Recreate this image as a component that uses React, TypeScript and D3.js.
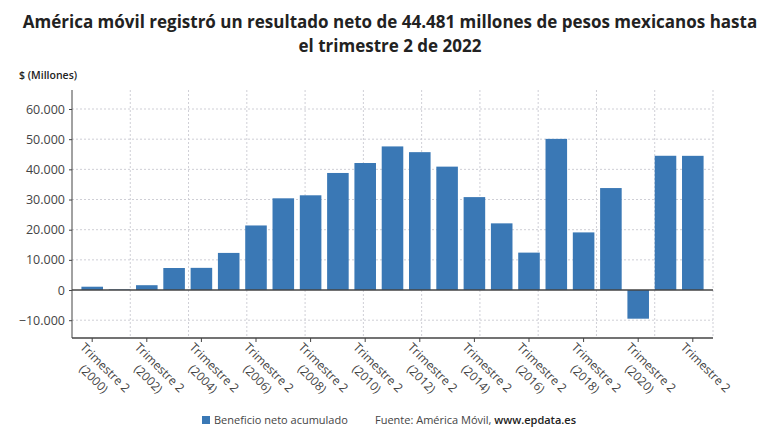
import React, { useRef, useEffect } from 'react';
import * as d3 from 'd3';

// Beneficio neto acumulado, trimestre 2 de cada año (millones de pesos)
const years = ['2000', '2001', '2002', '2003', '2004', '2005', '2006', '2007', '2008', '2009', '2010', '2011',
  '2012', '2013', '2014', '2015', '2016', '2017', '2018', '2019', '2020', '2021', '2022'];
const values = [1100, 200, 1600, 7300, 7350, 12300, 21400, 30400, 31400, 38800, 42100, 47600,
  45700, 40900, 30800, 22100, 12400, 50100, 19100, 33800, -9500, 44500, 44481];
const yTicks = [-10000, 0, 10000, 20000, 30000, 40000, 50000, 60000];
const labeledYears = ['2000', '2002', '2004', '2006', '2008', '2010', '2012', '2014', '2016', '2018', '2020', '2022'];

const titleLines = [
  'América móvil registró un resultado neto de 44.481 millones de pesos mexicanos hasta',
  'el trimestre 2 de 2022',
];

const FONT = '"Open Sans", "Noto Sans", sans-serif';
const BAR = '#3a78b5';

const App: React.FC = () => {
  const ref = useRef<HTMLDivElement>(null);

  useEffect(() => {
    d3.select(ref.current).select('svg').remove();

    const width = 780;
    const height = 440;
    const left = 72, right = 713, top = 90, bottom = 338;

    const svg = d3.select(ref.current)
      .append('svg')
      .attr('width', width)
      .attr('height', height)
      .style('position', 'absolute')
      .style('left', 0)
      .style('top', 0)
      .style('font-family', FONT);

    svg.append('rect').attr('width', width).attr('height', height).attr('fill', '#fff');

    // title
    svg.append('text')
      .attr('text-anchor', 'middle')
      .attr('font-size', 17)
      .attr('font-weight', 700)
      .attr('fill', '#222')
      .selectAll('tspan')
      .data(titleLines)
      .enter().append('tspan')
      .attr('x', 390)
      .attr('y', (d, i) => 28 + i * 24)
      .text(d => d);

    svg.append('text')
      .attr('x', 19).attr('y', 79)
      .attr('font-size', 10.5)
      .attr('font-weight', 600)
      .attr('fill', '#222')
      .text('$ (Millones)');

    const x = d3.scaleBand<string>()
      .domain(years)
      .range([left, right])
      .paddingInner(0.21)
      .paddingOuter(0.345);

    const y = d3.scaleLinear()
      .domain([-15900, 66300])
      .range([bottom, top]);

    // vertical grid: 11 equal divisions of the plot
    const gx = d3.scaleLinear().domain([0, 11]).range([left, right]);
    svg.append('g')
      .selectAll('line')
      .data(d3.range(1, 12))
      .enter().append('line')
      .attr('x1', d => gx(d)).attr('x2', d => gx(d))
      .attr('y1', top).attr('y2', bottom)
      .attr('stroke', '#cfcfd6')
      .attr('stroke-dasharray', '2,2');

    // horizontal grid
    svg.append('g')
      .selectAll('line')
      .data(yTicks.filter(d => d !== 0))
      .enter().append('line')
      .attr('x1', left).attr('x2', right)
      .attr('y1', d => y(d)).attr('y2', d => y(d))
      .attr('stroke', '#cfcfd6')
      .attr('stroke-dasharray', '2,2');

    // bars
    svg.append('g')
      .selectAll('rect')
      .data(values)
      .enter().append('rect')
      .attr('x', (d, i) => x(years[i]) as number)
      .attr('width', x.bandwidth())
      .attr('y', d => y(Math.max(0, d)))
      .attr('height', d => Math.abs(y(d) - y(0)))
      .attr('fill', BAR);

    // zero line
    svg.append('line')
      .attr('x1', left).attr('x2', right)
      .attr('y1', y(0)).attr('y2', y(0))
      .attr('stroke', '#444')
      .attr('stroke-width', 1.5);

    // y axis
    const fmt = (v: number) => d3.format(',')(v).replace(/,/g, '.');
    const yAxis = svg.append('g')
      .attr('transform', `translate(${left},0)`)
      .call(d3.axisLeft(y).tickValues(yTicks).tickSize(3).tickPadding(4).tickFormat(d => fmt(d as number)));
    yAxis.select('.domain').attr('stroke', '#444').attr('d', `M0,${top}V${bottom}`);
    yAxis.selectAll('.tick line').attr('stroke', '#444');
    yAxis.selectAll('.tick text')
      .attr('font-family', FONT)
      .attr('font-size', 12.5)
      .attr('fill', '#444');

    // x axis
    svg.append('line')
      .attr('x1', left).attr('x2', right)
      .attr('y1', bottom).attr('y2', bottom)
      .attr('stroke', '#444')
      .attr('stroke-width', 1.5);

    const labels = svg.append('g')
      .selectAll('g')
      .data(labeledYears)
      .enter().append('g')
      .attr('transform', d => `translate(${(x(d) as number) + x.bandwidth() / 2},${bottom})`);

    labels.append('line')
      .attr('y1', 0).attr('y2', 4)
      .attr('stroke', '#444');

    const txt = labels.append('text')
      .attr('transform', 'rotate(45)')
      .attr('font-size', 12)
      .attr('fill', '#444')
      .attr('text-anchor', 'middle');

    txt.append('tspan')
      .attr('class', 'l1')
      .attr('y', 16)
      .text('Trimestre 2');
    txt.filter(d => d !== '2022')
      .append('tspan')
      .attr('y', 32)
      .text(d => `(${d})`);

    // center both lines on the first line's midpoint so line 1 starts near the tick
    txt.each(function () {
      const t = d3.select(this);
      const w = (t.select('.l1').node() as SVGTextContentElement).getComputedTextLength();
      t.selectAll('tspan').attr('x', w / 2 - 2);
    });

    // legend + source
    svg.append('rect')
      .attr('x', 202).attr('y', 416)
      .attr('width', 8).attr('height', 8)
      .attr('fill', BAR);
    svg.append('text')
      .attr('x', 214).attr('y', 424)
      .attr('font-size', 11)
      .attr('fill', '#444')
      .text('Beneficio neto acumulado');

    const src = svg.append('text')
      .attr('x', 375).attr('y', 424)
      .attr('font-size', 11)
      .attr('fill', '#444');
    src.append('tspan').text('Fuente: América Móvil, ');
    src.append('tspan').attr('font-weight', 600).attr('fill', '#222').text('www.epdata.es');
  }, []);

  return <div ref={ref} />;
};

export default App;
